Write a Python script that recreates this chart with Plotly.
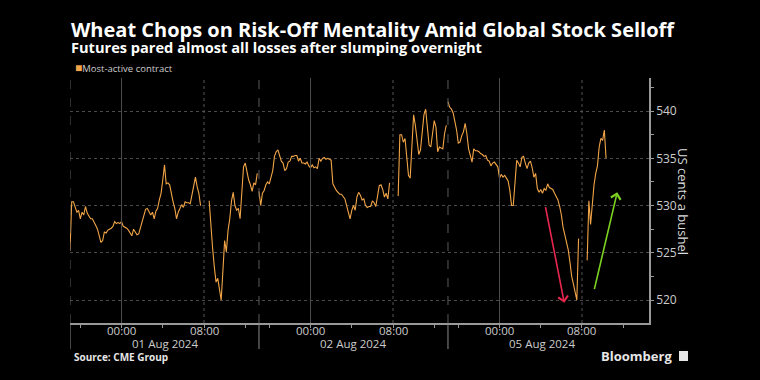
import pandas as pd
import plotly.graph_objects as go

# ---------------- data (10-minute samples) ----------------
session_opens = ["2024-07-31 19:00", "2024-08-01 19:00", "2024-08-04 19:00"]
day_opens = ["2024-08-01 08:30", "2024-08-02 08:30", "2024-08-05 08:30"]
break_marks = ["2024-08-01 08:00", "2024-08-02 08:00", "2024-08-05 08:00"]

s1_night = [525.2, 530.4, 530.4, 529.9, 529.3, 529.5, 528.6, 529.3, 529.0, 529.9,
            529.2, 528.9, 528.6, 528.6, 528.3, 527.9, 527.5, 526.9, 526.1, 526.3,
            527.2, 527.1, 527.4, 527.5, 527.6, 527.8, 528.3, 528.1, 528.2, 528.1,
            528.3, 527.8, 527.7, 527.6, 527.4, 527.1, 526.8, 527.5, 527.2, 526.9,
            527.0, 527.6, 528.3, 529.0, 529.6, 529.7, 529.3, 529.0, 529.3, 528.6,
            529.4, 529.7, 530.6, 531.3, 532.7, 534.3, 532.3, 532.4, 532.2, 531.1,
            530.4, 529.7, 528.6, 529.3, 529.8, 530.1, 529.8, 530.4, 530.3, 530.3,
            530.2, 531.1, 532.3, 533.0, 532.0, 531.3, 530.0]
s1_day = [530.5, 527.5, 525.5, 523.5, 521.9, 522.3, 521.0, 520.0, 523.1, 526.3,
          525.1, 527.4, 528.6, 530.5, 531.4, 530.0, 529.5, 529.7, 528.6, 531.6,
          534.1, 534.5, 533.6, 532.7, 532.2, 531.5, 532.4, 532.2, 533.4, 532.8]

s2_night = [531.5, 530.0, 531.3, 531.6, 532.2, 532.5, 532.3, 532.9, 533.7, 535.2,
            535.7, 535.9, 535.3, 534.7, 534.5, 533.7, 533.9, 534.6, 534.7, 535.2,
            535.2, 535.3, 535.3, 534.7, 535.0, 534.5, 534.5, 534.4, 534.6, 534.2,
            534.0, 534.3, 534.0, 534.1, 533.9, 535.0, 534.7, 535.0, 535.1, 534.9,
            535.0, 534.9, 534.8, 532.3, 531.9, 531.6, 531.4, 531.2, 531.2, 530.9,
            530.7, 530.0, 529.2, 528.6, 529.5, 530.0, 529.5, 530.9, 531.4, 531.1,
            530.6, 530.7, 530.0, 529.8, 529.9, 529.9, 530.5, 530.3, 529.9, 531.3,
            532.1, 532.2, 531.7, 530.9, 531.3, 530.7, 532.4]
s2_day = [531.0, 537.5, 537.5, 536.7, 537.1, 535.0, 533.2, 532.9, 537.1, 539.6,
          538.5, 536.6, 535.4, 535.9, 538.0, 539.6, 540.2, 538.3, 536.4, 536.2,
          537.6, 539.0, 538.3, 535.7, 536.2, 536.1, 536.0, 537.6, 538.5, 541.0]

s3_night = [541.0, 540.4, 540.2, 539.8, 538.9, 538.0, 536.6, 536.7, 537.4, 537.8,
            538.7, 537.6, 536.0, 535.2, 534.6, 536.0, 535.8, 535.8, 535.7, 535.5,
            535.4, 535.2, 535.3, 534.8, 534.7, 534.2, 534.5, 534.6, 534.3, 534.1,
            532.9, 533.3, 533.0, 533.2, 532.9, 532.6, 531.6, 530.0, 530.0, 532.2,
            534.8, 534.5, 534.1, 535.1, 535.2, 534.5, 533.9, 534.5, 534.7, 534.0,
            533.0, 533.4, 531.8, 531.4, 531.7, 531.3, 531.8, 531.6, 532.3, 531.9,
            531.8, 531.7, 531.3, 531.0, 530.6, 529.9, 529.0, 527.7, 526.9, 526.0,
            525.3, 524.0, 522.5, 521.7, 520.8, 520.0, 526.5]
s3_day = [524.2, 530.5, 528.0, 530.4, 532.2, 533.4, 534.2, 536.2, 537.1, 536.9,
          538.0, 535.0]

title_text = "Wheat Chops on Risk-Off Mentality Amid Global Stock Selloff"
subtitle_text = "Futures pared almost all losses after slumping overnight"
legend_text = "Most-active contract"
source_text = "Source: CME Group"
y_title = "US cents a bushel"
y_ticks = [520, 525, 530, 535, 540]
x_tick_vals = ["2024-08-01 00:00", "2024-08-01 08:00", "2024-08-02 00:00",
               "2024-08-02 08:00", "2024-08-05 00:00", "2024-08-05 08:00"]
x_tick_text = ["00:00", "08:00", "00:00", "08:00", "00:00", "08:00"]
x_minor_vals = ["2024-07-31 20:00", "2024-08-01 04:00", "2024-08-01 12:00",
                "2024-08-01 20:00", "2024-08-02 04:00", "2024-08-02 12:00",
                "2024-08-04 20:00", "2024-08-05 04:00", "2024-08-05 12:00"]
date_labels = ["01 Aug 2024", "02 Aug 2024", "05 Aug 2024"]
date_label_pos = ["2024-08-01 04:10", "2024-08-02 04:10", "2024-08-05 04:10"]
midnights = ["2024-08-01 00:00", "2024-08-02 00:00", "2024-08-05 00:00"]
eights = ["2024-08-01 08:00", "2024-08-02 08:00", "2024-08-05 08:00"]

# arrows (tail -> head) in data coordinates
red_arrow = dict(x0="2024-08-05 04:26", y0=530.0, x1="2024-08-05 06:17", y1=519.7)
green_arrow = dict(x0="2024-08-05 09:10", y0=521.0, x1="2024-08-05 11:25", y1=531.4)

# ---------------- build series ----------------
xs, ys = [], []
for op, night, dop, day, brk in zip(session_opens,
                                    [s1_night, s2_night, s3_night],
                                    day_opens, [s1_day, s2_day, s3_day],
                                    break_marks):
    xs += list(pd.date_range(op, periods=len(night), freq="10min"))
    ys += night
    xs.append(pd.Timestamp(brk))
    ys.append(None)
    xs += list(pd.date_range(dop, periods=len(day), freq="10min"))
    ys += day

ORANGE = "#f2a547"
fig = go.Figure()
fig.add_trace(go.Scatter(x=xs, y=ys, mode="lines",
                         line=dict(color=ORANGE, width=1.1),
                         connectgaps=False, showlegend=False,
                         hoverinfo="skip"))

# ---------------- layout ----------------
PLOT_H = 245.0
PLOT_W = 579.0

def py(pix):
    return (323 - pix) / PLOT_H

def px(pix):
    return (pix - 70) / PLOT_W

shapes = []
for d in midnights:
    shapes.append(dict(type="line", xref="x", yref="paper", x0=d, x1=d, y0=0, y1=1,
                       line=dict(color="#4d4d4d", width=1)))
for d in eights:
    shapes.append(dict(type="line", xref="x", yref="paper", x0=d, x1=d, y0=0, y1=1,
                       line=dict(color="#555555", width=1, dash="dot")))
for d in session_opens:
    shapes.append(dict(type="line", xref="x", yref="paper", x0=d, x1=d, y0=0, y1=1,
                       line=dict(color="#5a5a5a", width=1, dash="dash")))
    shapes.append(dict(type="line", xref="x", yref="paper", x0=d, x1=d,
                       y0=py(349), y1=0, line=dict(color="#8a8a8a", width=1)))
# Bloomberg mark box
shapes.append(dict(type="rect", xref="paper", yref="paper",
                   x0=px(679), x1=px(688), y0=py(361), y1=py(351),
                   fillcolor="#e6e6e6", line=dict(width=0)))

FONT = "Open Sans"
ann = []
# title + subtitle in one block (line spacing set by the base font size)
ann.append(dict(text=(f'<span style="font-size:20px"><b>{title_text}</b></span><br>'
                      f'<span style="font-size:14.6px"><b>{subtitle_text}</b></span>'),
                xref="paper", yref="paper", x=px(69), y=py(36.5), xanchor="left",
                yanchor="middle", align="left", showarrow=False,
                font=dict(family=FONT, size=12.6, color="#ffffff")))
ann.append(dict(text=f'<span style="color:{ORANGE};font-size:12px">■</span>{legend_text}',
                xref="paper", yref="paper", x=px(73), y=py(68), xanchor="left",
                yanchor="middle", showarrow=False,
                font=dict(family=FONT, size=9.5, color="#cccccc")))
for lab, pos in zip(x_tick_text, x_tick_vals):
    ann.append(dict(text=lab, xref="x", yref="paper", x=pos, y=py(330),
                    xanchor="center", yanchor="middle", showarrow=False,
                    font=dict(family=FONT, size=11.5, color="#cccccc")))
for lab, pos in zip(date_labels, date_label_pos):
    ann.append(dict(text=lab, xref="x", yref="paper", x=pos, y=py(343),
                    xanchor="center", yanchor="middle", showarrow=False,
                    font=dict(family=FONT, size=11.5, color="#cccccc")))
ann.append(dict(text=f"<b>{source_text}</b>", xref="paper", yref="paper",
                x=px(72), y=py(357), xanchor="left", yanchor="middle",
                showarrow=False, font=dict(family=FONT, size=10, color="#e6e6e6")))
ann.append(dict(text="<b>Bloomberg</b>", xref="paper", yref="paper",
                x=px(674), y=py(356), xanchor="right", yanchor="middle",
                showarrow=False, font=dict(family=FONT, size=13, color="#e6e6e6")))
ann.append(dict(text=y_title, xref="paper", yref="paper",
                x=px(683), y=py(201), xanchor="center", yanchor="middle",
                textangle=90, showarrow=False,
                font=dict(family=FONT, size=13, color="#dddddd")))
for a, col in [(red_arrow, "#e8274f"), (green_arrow, "#7dd321")]:
    ann.append(dict(text="", x=a["x1"], y=a["y1"], ax=a["x0"], ay=a["y0"],
                    xref="x", yref="y", axref="x", ayref="y",
                    showarrow=True, arrowhead=4, arrowsize=1.2, arrowwidth=1.6,
                    arrowcolor=col))

fig.update_layout(
    width=760, height=380,
    paper_bgcolor="#000000", plot_bgcolor="#000000",
    margin=dict(l=70, r=111, t=78, b=57),
    font=dict(family=FONT, color="#cccccc"),
    shapes=shapes, annotations=ann, showlegend=False,
    xaxis=dict(
        type="date",
        range=["2024-07-31 19:00", "2024-08-05 14:30"],
        rangebreaks=[dict(bounds=["2024-08-01 13:20", "2024-08-01 19:00"]),
                     dict(bounds=["2024-08-02 13:20", "2024-08-04 19:00"])],
        tickmode="array", tickvals=x_tick_vals, ticktext=x_tick_text,
        showticklabels=False,
        ticks="outside", ticklen=3, tickcolor="#999999",
        minor=dict(tickmode="array", tickvals=x_minor_vals, ticks="outside",
                   ticklen=3, tickcolor="#999999", showgrid=False),
        showgrid=False, zeroline=False,
        showline=True, linecolor="#999999", linewidth=1.5,
        fixedrange=True,
    ),
    yaxis=dict(
        side="right", range=[517.57, 543.5],
        tickmode="array", tickvals=y_ticks,
        ticks="outside", ticklen=3, tickcolor="#999999",
        minor=dict(tick0=520, dtick=2.5, ticks="outside", ticklen=3,
                   tickcolor="#999999", showgrid=False),
        showgrid=True, gridcolor="#4a4a4a", griddash="dot", gridwidth=1,
        zeroline=False, showline=True, linecolor="#999999", linewidth=1.5,
        tickfont=dict(family=FONT, size=12, color="#cccccc"),
        fixedrange=True,
    ),
)

fig.write_html("out.html", config={"displayModeBar": False},
               post_script="document.body.style.margin='0';")
